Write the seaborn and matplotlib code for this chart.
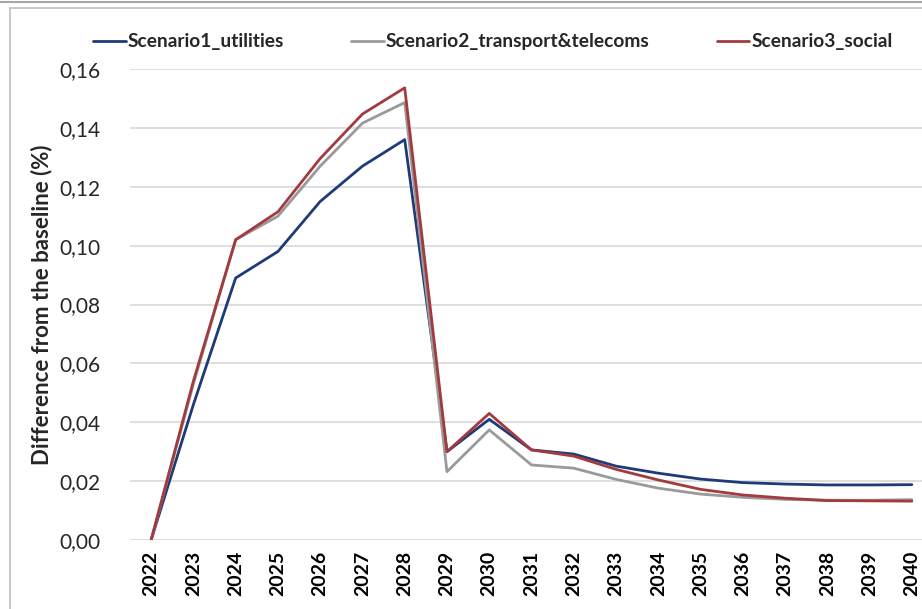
import matplotlib
matplotlib.use("Agg")
import matplotlib.pyplot as plt
import matplotlib.lines as mlines
import pandas as pd
import seaborn as sns

years = list(range(2022, 2041))

scenario1_utilities = [0.0, 0.046, 0.089, 0.098, 0.115, 0.127, 0.136, 0.030, 0.041,
                       0.0306, 0.0292, 0.0251, 0.0227, 0.0207, 0.0195, 0.019, 0.0187,
                       0.0187, 0.0188]
scenario2_transport = [0.0, 0.053, 0.102, 0.110, 0.127, 0.1416, 0.1486, 0.0232, 0.0374,
                       0.0255, 0.0244, 0.0206, 0.0176, 0.0156, 0.0145, 0.0138, 0.0135,
                       0.0135, 0.0137]
scenario3_social = [0.0, 0.054, 0.102, 0.1115, 0.1296, 0.1447, 0.1536, 0.030, 0.043,
                    0.0306, 0.0285, 0.024, 0.0204, 0.0172, 0.0153, 0.0142, 0.0134,
                    0.0133, 0.0132]

series_names = ["Scenario1_utilities", "Scenario2_transport&telecoms", "Scenario3_social"]
colors = ["#1F3A78", "#9A9A9A", "#A33B3E"]
y_ticks = [0.00, 0.02, 0.04, 0.06, 0.08, 0.10, 0.12, 0.14, 0.16]

df = pd.DataFrame({
    "year": years * 3,
    "value": scenario1_utilities + scenario2_transport + scenario3_social,
    "scenario": [series_names[0]] * len(years) + [series_names[1]] * len(years)
    + [series_names[2]] * len(years),
})

sns.set_style("white")
plt.rcParams["font.family"] = ["Lato", "DejaVu Sans"]

W, H = 922, 609
fig = plt.figure(figsize=(W / 100, H / 100), dpi=100)
ax = fig.add_axes([130 / W, 1 - 540 / H, (933 - 130) / W, (540 - 69) / H])

sns.lineplot(data=df, x="year", y="value", hue="scenario", palette=colors,
             hue_order=series_names, linewidth=2.0, ax=ax, legend=False)

ax.set_xlim(2021.5, 2040.5)
ax.set_ylim(0, 0.16)
ax.set_yticks(y_ticks)
ax.set_yticklabels([f"{v:.2f}".replace(".", ",") for v in y_ticks],
                   fontsize=15, color="#262626")
ax.set_xticks(years)
ax.set_xticklabels([str(y) for y in years], rotation=90, fontsize=14,
                   fontweight="bold", color="black")
ax.tick_params(axis="y", length=0, pad=21)
ax.tick_params(axis="x", length=0, pad=8)
ax.grid(axis="y", color="#D9D9D9", linewidth=1.2)
ax.grid(axis="x", visible=False)
for s in ax.spines.values():
    s.set_visible(False)
ax.set_xlabel("")
ax.set_ylabel("Difference from the baseline (%)", fontsize=16,
              fontweight="bold")
ax.yaxis.set_label_coords(-78 / (933 - 130), 0.5)

handles = [mlines.Line2D([], [], color=c, linewidth=2.0) for c in colors]
fig.legend(handles, series_names, loc="center", bbox_to_anchor=(493 / W, 1 - 42 / H),
           ncol=3, frameon=False, handlelength=1.7, handletextpad=0.1,
           columnspacing=3.5, prop={"weight": "bold", "size": 13.8})

# screenshot frame
fig.add_artist(mlines.Line2D([0, 1], [1 - 1.5 / H, 1 - 1.5 / H], color="#A6A6A6",
                             linewidth=1.5, transform=fig.transFigure))
fig.add_artist(mlines.Line2D([9.5 / W, 1], [1 - 7.5 / H, 1 - 7.5 / H], color="#BFBFBF",
                             linewidth=1.2, transform=fig.transFigure))
fig.add_artist(mlines.Line2D([9.5 / W, 9.5 / W], [0, 1 - 7.5 / H], color="#BFBFBF",
                             linewidth=1.2, transform=fig.transFigure))

fig.savefig("out.png", dpi=100)
